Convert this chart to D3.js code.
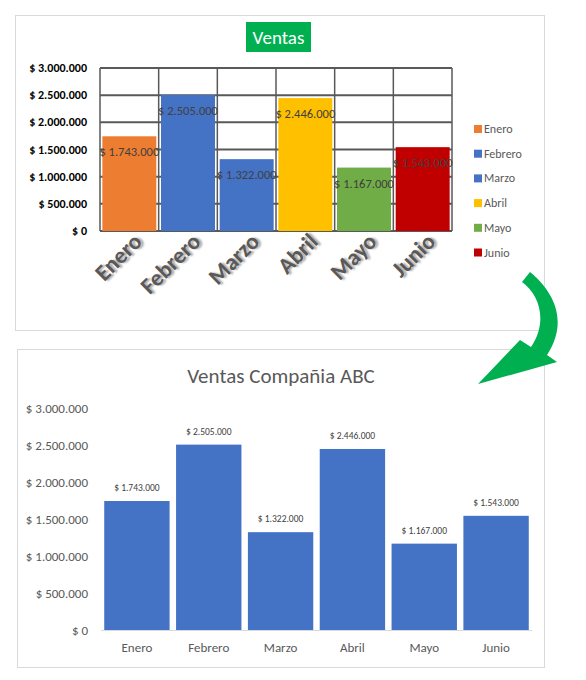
<!DOCTYPE html><html><head><meta charset="utf-8">
<script src="https://d3js.org/d3.v7.min.js"></script>
<style>body{margin:0;background:#fff}text{font-family:Calibri,Carlito,"Open Sans","Liberation Sans",sans-serif}</style></head>
<body><svg id="c" width="586" height="680"></svg>
<script>
const months=["Enero","Febrero","Marzo","Abril","Mayo","Junio"];
const sales=[1743000,2505000,1322000,2446000,1167000,1543000];
const topColors=["#ED7D31","#4472C4","#4472C4","#FFC000","#70AD47","#C00000"];
const ticks=[0,500000,1000000,1500000,2000000,2500000,3000000];
const fmt=v=>"$ "+d3.format(",")(v).replace(/,/g,".");
const svg=d3.select("#c");

// top chart
svg.append("rect").attr("x",15.5).attr("y",15.5).attr("width",529).attr("height",315).attr("fill","#fff").attr("stroke","#d9d9d9");
svg.append("rect").attr("x",246).attr("y",22).attr("width",65).attr("height",30).attr("fill","#00B050");
svg.append("text").attr("x",278.5).attr("y",44).attr("text-anchor","middle").attr("font-size",19).attr("fill","#fff").text("Ventas");
const L1=100,R1=452;
const x1=d3.scaleBand().domain(months).range([L1,R1]).paddingInner(0.08).paddingOuter(0.04);
const y1=d3.scaleLinear().domain([0,3000000]).range([231,68]);
const g1=svg.append("g");
g1.selectAll(".hg").data(ticks).join("line").attr("x1",L1).attr("x2",R1).attr("y1",d=>y1(d)).attr("y2",d=>y1(d)).attr("stroke","#595959").attr("stroke-width",2);
const bounds=d3.range(7).map(i=>L1+i*((R1-L1)/6));
g1.selectAll(".vg").data(bounds).join("line").attr("x1",d=>d).attr("x2",d=>d).attr("y1",68).attr("y2",231).attr("stroke","#595959").attr("stroke-width",1.5);
g1.selectAll(".b").data(months).join("rect").attr("x",d=>x1(d)).attr("width",x1.bandwidth()).attr("y",(d,i)=>y1(sales[i])).attr("height",(d,i)=>231-y1(sales[i])).attr("fill",(d,i)=>topColors[i]);
g1.selectAll(".yl").data(ticks).join("text").attr("x",87).attr("y",d=>y1(d)+4).attr("text-anchor","end").attr("font-size",12).attr("font-weight","bold").attr("fill","#000").text(fmt);
g1.selectAll(".dl").data(months).join("text").attr("x",d=>x1(d)+x1.bandwidth()/2).attr("y",(d,i)=>y1(sales[i])+20).attr("text-anchor","middle").attr("font-size",12.5).attr("fill","#404040").text((d,i)=>fmt(sales[i]));
g1.selectAll(".xl").data(months).join("text").attr("transform",d=>`translate(${x1(d)+x1.bandwidth()/2+14},243) rotate(-45)`).attr("text-anchor","end").attr("font-size",23).attr("font-weight","bold").attr("fill","#595959").attr("style","text-shadow:2px 2px 2px #aaa").text(d=>d);
const lg=g1.selectAll(".lg").data(months).join("g").attr("transform",(d,i)=>`translate(474,${129+i*24.7})`);
lg.append("rect").attr("x",0).attr("y",-4).attr("width",8).attr("height",8).attr("fill",(d,i)=>topColors[i]);
lg.append("text").attr("x",10).attr("y",4).attr("font-size",12).attr("fill","#595959").text(d=>d);

// bottom chart
svg.append("rect").attr("x",17.5).attr("y",349.5).attr("width",527).attr("height",318).attr("fill","#fff").attr("stroke","#d9d9d9");
svg.append("text").attr("x",281).attr("y",383).attr("text-anchor","middle").attr("font-size",21).attr("fill","#595959").text("Ventas Compañia ABC");
const x2=d3.scaleBand().domain(months).range([101,532]).paddingInner(0.09).paddingOuter(0.045);
const y2=d3.scaleLinear().domain([0,3000000]).range([630,408]);
const g2=svg.append("g");
g2.selectAll(".b").data(months).join("rect").attr("x",d=>x2(d)).attr("width",x2.bandwidth()).attr("y",(d,i)=>y2(sales[i])).attr("height",(d,i)=>630-y2(sales[i])).attr("fill","#4472C4");
g2.append("line").attr("x1",101).attr("x2",532).attr("y1",630.5).attr("y2",630.5).attr("stroke","#d9d9d9");
g2.selectAll(".yl").data(ticks).join("text").attr("x",88).attr("y",d=>y2(d)+5).attr("text-anchor","end").attr("font-size",13).attr("fill","#595959").text(fmt);
g2.selectAll(".dl").data(months).join("text").attr("x",d=>x2(d)+x2.bandwidth()/2).attr("y",(d,i)=>y2(sales[i])-10).attr("text-anchor","middle").attr("font-size",9.5).attr("fill","#404040").text((d,i)=>fmt(sales[i]));
g2.selectAll(".xl").data(months).join("text").attr("x",d=>x2(d)+x2.bandwidth()/2).attr("y",652).attr("text-anchor","middle").attr("font-size",13).attr("fill","#595959").text(d=>d);

// arrow
svg.append("path").attr("d","M530,272 C552,290 570,320 547,355 L557,362 L478,384 L520,340 L531,347 C548,322 540,295 522,282 Z").attr("fill","#00B050");
</script></body></html>
